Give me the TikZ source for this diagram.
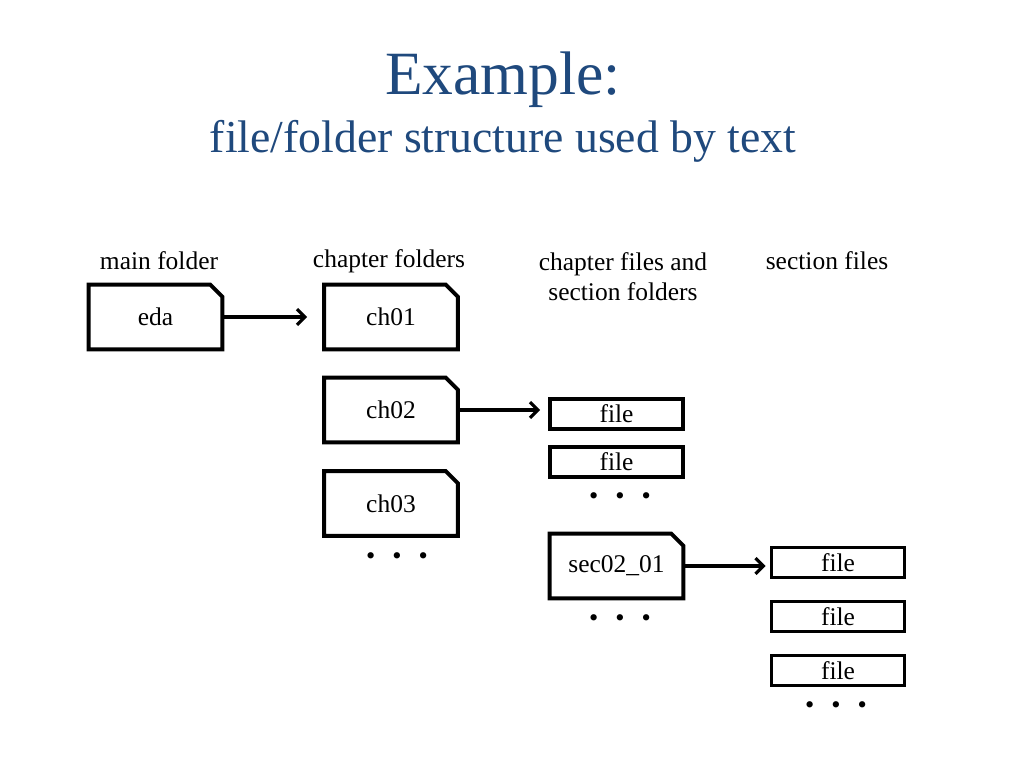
\documentclass[tikz,border=0pt]{standalone}
\usepackage{fontspec}
\setmainfont{Liberation Serif}
\usetikzlibrary{arrows.meta}

\definecolor{titleblue}{RGB}{31,73,125}

\tikzset{
  folder/.style={minimum width=2.66cm, minimum height=1.28cm, inner sep=0pt, font=\fontsize{14.5}{17}\selectfont},
  filebox/.style={draw, line width=2.2pt, minimum width=2.66cm, minimum height=0.6cm, inner sep=0pt, font=\fontsize{14.5}{17}\selectfont},
  heading/.style={font=\fontsize{14.5}{17}\selectfont, align=center},
  dots/.style={font=\fontsize{15}{17}\selectfont},
  link/.style={->, line width=1.8pt},
  >={Straight Barb[length=4.5pt,width=9pt]}
}

\newcommand{\dotrow}{\textbullet\hspace{0.65em}\textbullet\hspace{0.65em}\textbullet}

\begin{document}
\begin{tikzpicture}[x=0.02cm, y=-0.02cm]
\useasboundingbox (0,0) rectangle (1024,768);

% title:
\node[anchor=base, text=titleblue, font=\fontsize{35}{40}\selectfont] (title) at (503,94) {Example:};
\node[anchor=base, text=titleblue, font=\fontsize{26}{30}\selectfont] (subtitle) at (503,152) {file/folder structure used by text};

% headings:
\node[heading] (hmain) at (159,261) {main folder};
\node[heading] (hchap) at (389,261) {chapter folders};
\node[heading] (hfiles) at (623,277) {chapter files and\\section folders};
\node[heading] (hsec) at (827,261) {section files};

% folders:
\node[folder] (eda) at (155.5,317) {eda};
\node[folder] (ch01) at (391,317) {ch01};
\node[folder] (ch02) at (391,410) {ch02};
\node[folder] (ch03) at (391,503.5) {ch03};
\node[folder] (sec) at (616.5,566) {sec02\_01};

\foreach \n in {eda,ch01,ch02,ch03,sec}
  \draw[line width=2.2pt, line join=miter] (\n.south west) -- (\n.north west)
    -- ([xshift=-0.24cm]\n.north east) -- ([yshift=-0.24cm]\n.north east)
    -- (\n.south east) -- cycle;

% files:
\node[filebox] (fileA) at (616.5,414) {file};
\node[filebox] (fileB) at (616.5,462) {file};
\node[filebox] (fileC) at (838,562.5) {file};
\node[filebox] (fileD) at (838,616.5) {file};
\node[filebox] (fileE) at (838,670.5) {file};

% dots:
\node[dots] (dotsch) at (397,559) {\dotrow};
\node[dots] (dotsfile) at (620,499) {\dotrow};
\node[dots] (dotssec) at (620,621) {\dotrow};
\node[dots] (dotssecfile) at (836,708) {\dotrow};

% arrows:
\draw[link] (eda.east) -- ([xshift=-0.34cm]eda.east -| ch01.west);
\draw[link] (ch02.east) -- ([xshift=-0.16cm]ch02.east -| fileA.west);
\draw[link] (sec.east) -- ([xshift=-0.08cm]sec.east -| fileC.west);

\end{tikzpicture}
\end{document}
